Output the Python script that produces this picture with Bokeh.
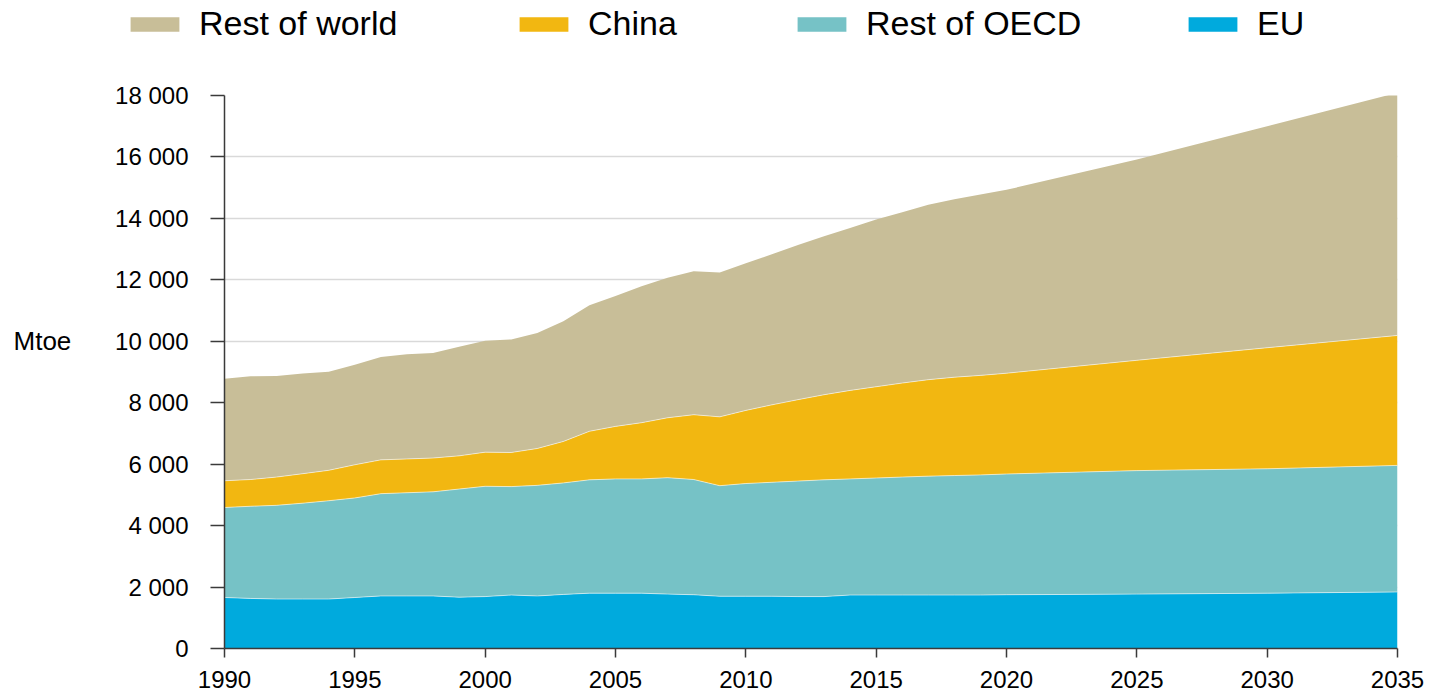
from bokeh.plotting import figure
from bokeh.layouts import column, row
from bokeh.models import ColumnDataSource, Legend, LegendItem, Label, Range1d, FixedTicker
from bokeh.embed import file_html
from bokeh.resources import INLINE

years = [1990, 1991, 1992, 1993, 1994, 1995, 1996, 1997, 1998, 1999,
         2000, 2001, 2002, 2003, 2004, 2005, 2006, 2007, 2008, 2009,
         2010, 2011, 2012, 2013, 2014, 2015, 2016, 2017, 2018, 2019,
         2020, 2025, 2030, 2035]

eu = [1660, 1630, 1610, 1610, 1610, 1660, 1710, 1710, 1710, 1670,
      1690, 1740, 1710, 1760, 1800, 1800, 1800, 1770, 1750, 1700,
      1700, 1700, 1690, 1690, 1740, 1740, 1740, 1740, 1740, 1740,
      1750, 1770, 1800, 1840]

rest_oecd = [2930, 3000, 3050, 3120, 3200, 3240, 3330, 3360, 3390, 3520,
             3590, 3530, 3600, 3630, 3690, 3720, 3720, 3790, 3750, 3600,
             3670, 3710, 3760, 3800, 3780, 3810, 3840, 3870, 3890, 3910,
             3930, 4020, 4050, 4120]

china = [870, 870, 920, 960, 990, 1080, 1100, 1100, 1100, 1080,
         1110, 1110, 1200, 1350, 1580, 1710, 1830, 1950, 2110, 2240,
         2380, 2520, 2650, 2770, 2880, 2970, 3060, 3140, 3200, 3240,
         3280, 3590, 3940, 4230]

rest_world = [3320, 3360, 3290, 3260, 3210, 3260, 3350, 3410, 3420, 3550,
              3630, 3680, 3760, 3910, 4100, 4240, 4440, 4560, 4670, 4700,
              4790, 4900, 5030, 5160, 5290, 5440, 5560, 5690, 5790, 5890,
              5970, 6540, 7210, 7900]

series_names = ["EU", "Rest of OECD", "China", "Rest of world"]
series_colors = ["#00AADD", "#76C2C6", "#F2B711", "#C8BE98"]

x_ticks = [1990, 1995, 2000, 2005, 2010, 2015, 2020, 2025, 2030, 2035]
y_ticks = [0, 2000, 4000, 6000, 8000, 10000, 12000, 14000, 16000, 18000]
y_tick_labels = ["0", "2 000", "4 000", "6 000", "8 000", "10 000",
                 "12 000", "14 000", "16 000", "18 000"]
unit_label = "Mtoe"

FONT = "Liberation Sans"

source = ColumnDataSource(dict(year=years, eu=eu, oecd=rest_oecd,
                               china=china, row=rest_world))
stackers = ["eu", "oecd", "china", "row"]

y_range = Range1d(0, 18000)

# ---- main chart ----
p = figure(width=1331, height=648, output_backend="svg", toolbar_location=None,
           x_range=Range1d(1990, 2035), y_range=y_range,
           min_border_left=124, min_border_right=34,
           min_border_top=45, min_border_bottom=50)
p.outline_line_color = None

p.varea_stack(stackers=stackers, x="year", color=series_colors, source=source)
p.vline_stack(stackers=stackers[:3], x="year", source=source,
              line_color="white", line_width=1, line_alpha=0.55)

p.xgrid.grid_line_color = None
p.ygrid.grid_line_color = "#D9D9D9"
p.ygrid.grid_line_width = 1.5
p.ygrid.ticker = FixedTicker(ticks=y_ticks)

p.xaxis.ticker = FixedTicker(ticks=x_ticks)
p.yaxis.ticker = FixedTicker(ticks=y_ticks)
p.yaxis.major_label_overrides = {t: l for t, l in zip(y_ticks, y_tick_labels)}

for ax in (p.xaxis[0], p.yaxis[0]):
    ax.axis_line_color = "#3a3a3a"
    ax.axis_line_width = 1.5
    ax.major_tick_line_color = "#3a3a3a"
    ax.major_tick_line_width = 1.5
    ax.major_tick_in = 0
    ax.minor_tick_line_color = None
    ax.major_label_text_font = FONT
    ax.major_label_text_font_size = "24px"
    ax.major_label_text_color = "black"

p.xaxis.major_tick_out = 9
p.xaxis.major_label_standoff = 13
p.yaxis.major_tick_out = 14
p.yaxis.major_label_standoff = 22

# ---- unit label strip (left) ----
u = figure(width=100, height=648, output_backend="svg", toolbar_location=None,
           x_range=Range1d(0, 100), y_range=y_range,
           x_axis_type=None, y_axis_type=None,
           min_border_left=0, min_border_right=0,
           min_border_top=45, min_border_bottom=50)
u.outline_line_color = None
u.xgrid.visible = False
u.ygrid.visible = False
u.add_layout(Label(x=13, y=10000, text=unit_label, text_font=FONT,
                   text_font_size="26px", text_color="black",
                   text_align="left", text_baseline="middle"))

# ---- legend strip (top) ----
# The strip's x range (0..1431) lies far from the years, so these stacked
# areas stay out of view; they only lend their colours to the legend swatches.
lf = figure(width=1431, height=50, output_backend="svg", toolbar_location=None,
            x_range=Range1d(0, 1431), y_range=Range1d(0, 50),
            x_axis_type=None, y_axis_type=None,
            min_border_left=0, min_border_right=0,
            min_border_top=0, min_border_bottom=0)
lf.outline_line_color = None
lf.xgrid.visible = False
lf.ygrid.visible = False
swatches = lf.varea_stack(stackers=stackers, x="year", color=series_colors,
                          source=source)

legend_order = [3, 2, 1, 0]
legend_vx = [124, 513, 791, 1182]
for idx, vx in zip(legend_order, legend_vx):
    lg = Legend(items=[LegendItem(label=series_names[idx], renderers=[swatches[idx]])],
                location=(vx, 7), orientation="horizontal",
                glyph_width=61, glyph_height=18, label_standoff=14,
                padding=0, spacing=0, margin=0,
                border_line_color=None, background_fill_alpha=0,
                label_text_font=FONT,
                label_text_font_size="34px", label_text_color="black",
                label_height=18)
    lf.add_layout(lg, "center")

layout = column(lf, row(u, p, spacing=0), spacing=0)

open("out.html", "w").write(file_html(layout, INLINE))
